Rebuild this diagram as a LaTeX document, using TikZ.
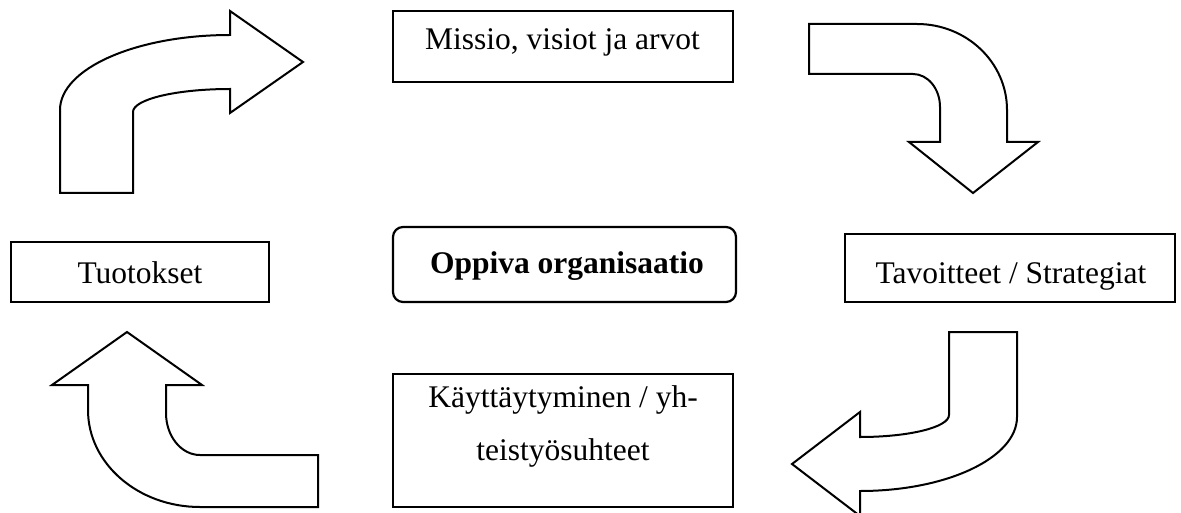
\documentclass[tikz,border=0pt]{standalone}
\usepackage{fontspec}
\setmainfont{Liberation Serif}
\begin{document}
\begin{tikzpicture}[x=0.5pt,y=-0.5pt,
  every node/.style={font=\fontsize{15.75}{26}\selectfont},
  box/.style={draw,line width=1.1pt,rectangle,inner sep=0pt},
  label text/.style={anchor=base,inner sep=0pt},
  bent/.style={draw,line width=1pt,line join=miter,fill=white}]
\clip (0,0) rectangle (1181,513);

% boxes
\node[box,minimum width=170pt,minimum height=35.5pt] (missio) at (563,46.5) {};
\node[label text] (missiot) at (562.5,50) {Missio, visiot ja arvot};

\node[box,minimum width=129pt,minimum height=30pt] (tuotokset) at (140,272) {};
\node[label text] (tuotoksett) at (140,283) {Tuotokset};

\node[box,minimum width=165pt,minimum height=34pt] (tavoitteet) at (1010,268) {};
\node[label text] (tavoitteett) at (1011,283) {Tavoitteet / Strategiat};

\node[box,rounded corners=5pt,minimum width=171.5pt,minimum height=37.5pt] (oppiva) at (564.5,264.5) {};
\node[label text] (oppivat) at (567,273) {\bfseries Oppiva organisaatio};

\node[box,minimum width=170pt,minimum height=66.5pt] (kaytt) at (563,440.5) {};
\node[label text] (kaytt1) at (563,407) {Käyttäytyminen / yh-};
\node[label text] (kaytt2) at (563,460) {teistyösuhteet};

% bent arrows between the stages
\path[bent] (60,193) -- (60,110) .. controls (60,68.6) and (136.1,35) .. (230,35)
  -- (230,11) -- (303,62) -- (230,113) -- (230,89)
  .. controls (176.4,89) and (133,99.3) .. (133,112) -- (133,193) -- cycle;

\path[bent] (809,24) -- (917,24) .. controls (966.7,24) and (1007,62.5) .. (1007,110)
  -- (1007,142) -- (1038,142) -- (973,193) -- (909,142) -- (940,142) -- (940,107)
  .. controls (940,88.8) and (927.9,74) .. (913,74) -- (809,74) -- cycle;

\path[bent] (949,332) -- (1017,332) -- (1017,417) .. controls (1017,457.9) and (946.7,491) .. (860,491)
  -- (860,516) -- (792,464) -- (860,412) -- (860,437)
  .. controls (909.2,437) and (949,427.2) .. (949,415) -- cycle;

\path[bent] (318,455) -- (200,455) .. controls (181.2,455) and (166,436.2) .. (166,413)
  -- (166,385) -- (202,385) -- (127,332) -- (52,385) -- (88,385) -- (88,410)
  .. controls (88,463.6) and (138.1,507) .. (200,507) -- (318,507) -- cycle;
\end{tikzpicture}
\end{document}
